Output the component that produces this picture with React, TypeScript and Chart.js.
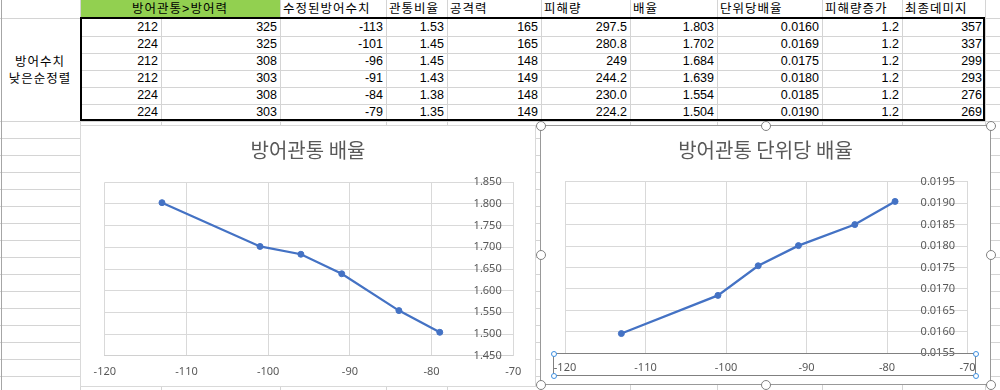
import React, { useEffect, useRef } from "react";
import { Chart, registerables } from "chart.js";

Chart.register(...registerables);

// ---------- data ----------
const penetration = ["212", "224", "212", "212", "224", "224"];
const defense = ["325", "325", "308", "303", "308", "303"];
const adjustedDefense = [-113, -101, -96, -91, -84, -79];
const penetrationRatio = ["1.53", "1.45", "1.45", "1.43", "1.38", "1.35"];
const attack = ["165", "165", "148", "149", "148", "149"];
const damage = ["297.5", "280.8", "249", "244.2", "230.0", "224.2"];
const multiplier = [1.803, 1.702, 1.684, 1.639, 1.554, 1.504];
const multiplierText = ["1.803", "1.702", "1.684", "1.639", "1.554", "1.504"];
const unitMultiplierText = ["0.0160", "0.0169", "0.0175", "0.0180", "0.0185", "0.0190"];
const unitMultiplier = [0.01596, 0.01685, 0.01754, 0.01801, 0.0185, 0.01904];
const damageIncrease = ["1.2", "1.2", "1.2", "1.2", "1.2", "1.2"];
const finalDamage = ["357", "337", "299", "293", "276", "269"];

const mergedHeader = "방어관통>방어력";
const headers = ["수정된방어수치", "관통비율", "공격력", "피해량", "배율", "단위당배율", "피해량증가", "최종데미지"];
const sideLabel = ["방어수치", "낮은순정렬"];

const chart1Title = "방어관통 배율";
const chart2Title = "방어관통 단위당 배율";
const xAxisRange = { min: -120, max: -70, step: 10 };
const y1Range = { min: 1.45, max: 1.85, step: 0.05, decimals: 3 };
const y2Range = { min: 0.0155, max: 0.0195, step: 0.0005, decimals: 4 };

// ---------- layout ----------
const colX = [80, 161, 280, 386, 447, 541, 630, 717, 822, 902, 985];
const rowLines = [18, 36, 53, 70, 87, 104, 121, 138, 155, 172, 189, 206, 223, 240, 257, 274, 291, 308, 325, 342, 359, 376];
const GRID = "#D4D4D4";
const CELL_FONT = "'Liberation Sans', 'Noto Sans CJK KR', sans-serif";
const CHART_FONT = "'Noto Sans', 'Noto Sans CJK KR', sans-serif";
const KO_SPACING = "1px";

type ChartProps = {
  title: string;
  yValues: number[];
  yRange: { min: number; max: number; step: number; decimals: number };
  width: number;
  height: number;
  padLeft: number;
  axisRight: number;
  axisBottom: number;
  titleTop: number;
  titleBottom: number;
  yLabelPad: number;
  xLabelPad: number;
};

function ScatterChart(p: ChartProps) {
  const ref = useRef<HTMLCanvasElement>(null);
  useEffect(() => {
    const tickFont = { family: CHART_FONT, size: 11 };
    const chart = new Chart(ref.current as HTMLCanvasElement, {
      type: "scatter",
      data: {
        datasets: [
          {
            data: adjustedDefense.map((x, i) => ({ x, y: p.yValues[i] })),
            showLine: true,
            borderColor: "#4472C4",
            backgroundColor: "#4472C4",
            borderWidth: 2.25,
            pointRadius: 3,
            pointBorderWidth: 1,
            pointBackgroundColor: "#4472C4",
            pointBorderColor: "#4472C4",
          },
        ],
      },
      options: {
        responsive: false,
        animation: false,
        devicePixelRatio: 1,
        layout: { padding: 0 },
        plugins: {
          legend: { display: false },
          tooltip: { enabled: false },
          title: {
            display: true,
            text: p.title,
            color: "#595959",
            font: { family: "'Noto Sans CJK KR', sans-serif", size: 20, weight: "normal", lineHeight: 1.2 },
            padding: { top: p.titleTop, bottom: p.titleBottom },
          },
        },
        scales: {
          x: {
            type: "linear",
            position: "bottom",
            min: xAxisRange.min,
            max: xAxisRange.max,
            ticks: {
              stepSize: xAxisRange.step,
              color: "#595959",
              font: tickFont,
              padding: p.xLabelPad,
              maxRotation: 0,
              autoSkip: false,
            },
            grid: { color: "#D9D9D9", drawTicks: false, lineWidth: 1 },
            border: { color: "#D0D0D0" },
            afterFit: (s: any) => {
              s.height = p.axisBottom;
            },
          },
          y: {
            type: "linear",
            position: "right",
            min: p.yRange.min,
            max: p.yRange.max,
            ticks: {
              stepSize: p.yRange.step,
              mirror: true,
              color: "#595959",
              font: tickFont,
              padding: p.yLabelPad,
              callback: (v: any) => Number(v).toFixed(p.yRange.decimals),
            },
            grid: { color: "#D9D9D9", drawTicks: false, lineWidth: 1 },
            border: { color: "#D9D9D9" },
            afterFit: (s: any) => {
              s.width = p.axisRight;
            },
          },
          spacer: {
            type: "linear",
            position: "left",
            display: true,
            ticks: { display: false },
            grid: { display: false, drawTicks: false },
            border: { display: false },
            afterFit: (s: any) => {
              s.width = p.padLeft;
            },
          },
        },
      } as any,
    });
    return () => chart.destroy();
  }, []);
  return <canvas ref={ref} width={p.width} height={p.height} style={{ display: "block", width: p.width, height: p.height }} />;
}

function Handle({ x, y }: { x: number; y: number }) {
  return (
    <div
      style={{
        position: "absolute",
        left: x - 5,
        top: y - 5,
        width: 10,
        height: 10,
        borderRadius: "50%",
        border: "1.5px solid #808080",
        background: "#fff",
        boxSizing: "border-box",
      }}
    />
  );
}

function SmallHandle({ x, y }: { x: number; y: number }) {
  return (
    <div
      style={{
        position: "absolute",
        left: x - 3,
        top: y - 3,
        width: 6,
        height: 6,
        borderRadius: "50%",
        border: "1px solid #3D8FE0",
        background: "#fff",
        boxSizing: "border-box",
      }}
    />
  );
}

export default function App() {
  const columns = [
    penetration,
    defense,
    adjustedDefense.map(String),
    penetrationRatio,
    attack,
    damage,
    multiplierText,
    unitMultiplierText,
    damageIncrease,
    finalDamage,
  ];

  const hLines: React.ReactNode[] = [];
  rowLines.forEach((y, k) => {
    const inMerged = y > 18 && y < 121;
    hLines.push(
      <div
        key={"h" + k}
        style={{ position: "absolute", left: inMerged ? 80 : 0, width: inMerged ? 920 : 1000, top: y, height: 1, background: GRID }}
      />
    );
  });
  const vLines = colX.map((x, k) => (
    <div
      key={"v" + k}
      style={{ position: "absolute", left: x, top: k === 1 ? 18 : 0, width: 1, height: k === 1 ? 372 : 390, background: GRID }}
    />
  ));

  const cells: React.ReactNode[] = [];
  columns.forEach((col, j) => {
    col.forEach((txt, i) => {
      cells.push(
        <div
          key={`c${i}-${j}`}
          style={{
            position: "absolute",
            left: colX[j],
            width: colX[j + 1] - colX[j] - 3,
            top: rowLines[i],
            height: rowLines[i + 1] - rowLines[i],
            lineHeight: rowLines[i + 1] - rowLines[i] + "px",
            textAlign: "right",
            whiteSpace: "nowrap",
          }}
        >
          {txt}
        </div>
      );
    });
  });

  return (
    <div
      style={{
        position: "absolute",
        left: 0,
        top: 0,
        width: 1000,
        height: 390,
        overflow: "hidden",
        background: "#fff",
        fontFamily: CELL_FONT,
        fontSize: 12.5,
        color: "#000",
      }}
    >
      {/* green merged header */}
      <div style={{ position: "absolute", left: 80, top: 0, width: 200, height: 18, background: "#92D050" }} />
      {hLines}
      {vLines}
      <div style={{ position: "absolute", left: 1, top: 0, width: 1, height: 390, background: "#A6A6A6" }} />

      {/* header texts */}
      <div
        style={{
          position: "absolute",
          left: 80,
          width: 200,
          top: 0,
          height: 18,
          lineHeight: "18px",
          textAlign: "center",
          letterSpacing: KO_SPACING,
        }}
      >
        {mergedHeader}
      </div>
      {headers.map((h, k) => (
        <div
          key={"hd" + k}
          style={{
            position: "absolute",
            left: colX[k + 2] + 3,
            top: 0,
            height: 18,
            lineHeight: "18px",
            whiteSpace: "nowrap",
            letterSpacing: KO_SPACING,
          }}
        >
          {h}
        </div>
      ))}

      {/* side label */}
      <div
        style={{
          position: "absolute",
          left: 0,
          width: 80,
          top: 54,
          lineHeight: "17px",
          textAlign: "center",
          letterSpacing: KO_SPACING,
        }}
      >
        <div>{sideLabel[0]}</div>
        <div>{sideLabel[1]}</div>
      </div>

      {cells}

      {/* thick table border */}
      <div
        style={{ position: "absolute", left: 80, top: 17, width: 905, height: 104, border: "2px solid #000", boxSizing: "border-box" }}
      />

      {/* chart 1 */}
      <div style={{ position: "absolute", left: 80, top: 125, width: 456, height: 262, background: "#fff" }}>
        <ScatterChart
          title={chart1Title}
          yValues={multiplier}
          yRange={y1Range}
          width={456}
          height={262}
          padLeft={24.8}
          axisRight={22.7}
          axisBottom={31.3}
          titleTop={13}
          titleBottom={20.3}
          yLabelPad={-11.6}
          xLabelPad={9.4}
        />
        <div
          style={{ position: "absolute", left: 0, top: 0, width: 456, height: 262, border: "1px solid #D9D9D9", boxSizing: "border-box" }}
        />
      </div>

      {/* chart 2 (selected) */}
      <div style={{ position: "absolute", left: 540, top: 125, width: 451, height: 260, background: "#fff" }}>
        <ScatterChart
          title={chart2Title}
          yValues={unitMultiplier}
          yRange={y2Range}
          width={451}
          height={260}
          padLeft={25}
          axisRight={23.5}
          axisBottom={31.7}
          titleTop={13}
          titleBottom={19.7}
          yLabelPad={-12.5}
          xLabelPad={8.4}
        />
        <div
          style={{ position: "absolute", left: 0, top: 0, width: 451, height: 260, border: "1px solid #999", boxSizing: "border-box" }}
        />
      </div>

      {/* x-axis selection box */}
      <div
        style={{ position: "absolute", left: 553, top: 353, width: 423, height: 23, border: "1px solid #808080", boxSizing: "border-box" }}
      />
      <SmallHandle x={553.5} y={353.5} />
      <SmallHandle x={975.5} y={353.5} />
      <SmallHandle x={553.5} y={375.5} />
      <SmallHandle x={975.5} y={375.5} />

      {/* chart selection handles */}
      <Handle x={540.5} y={125.5} />
      <Handle x={765.5} y={125.5} />
      <Handle x={990.5} y={125.5} />
      <Handle x={540.5} y={254.5} />
      <Handle x={990.5} y={254.5} />
      <Handle x={540.5} y={384.5} />
      <Handle x={765.5} y={384.5} />
      <Handle x={990.5} y={384.5} />
    </div>
  );
}
